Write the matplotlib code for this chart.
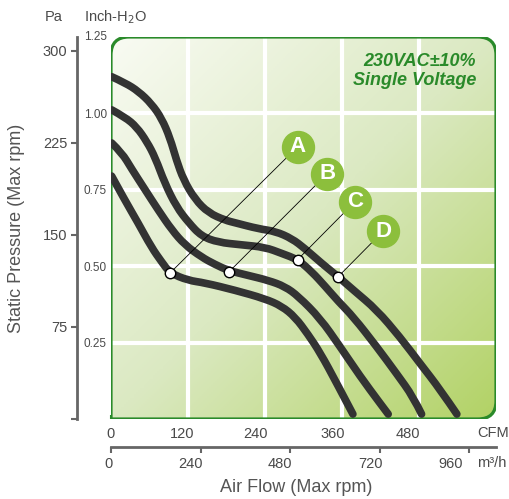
import numpy as np
import matplotlib
matplotlib.use('Agg')
import matplotlib.pyplot as plt
from matplotlib.path import Path
from matplotlib.patches import PathPatch
from matplotlib.colors import LinearSegmentedColormap
from matplotlib.transforms import ScaledTranslation

plt.rcParams['font.family'] = ['Liberation Sans', 'DejaVu Sans']

PA_PER_INCH = 249.09

# axis ticks
cfm_ticks = [0, 120, 240, 360, 480]
m3h_ticks = [0, 240, 480, 720, 960]
pa_ticks = [0, 75, 150, 225, 300]
pa_labels = ['', '75', '150', '225', '300']
inch_ticks = [0.25, 0.50, 0.75, 1.00]
inch_labels = ['0.25', '0.50', '0.75', '1.00']

# fan curves (CFM, Pa)
fan_names = ['A', 'B', 'C', 'D']
cfm_a = [1, 22, 42, 63, 79, 92, 120, 146, 193, 240, 266, 287, 307, 326, 352, 377]
pa_a = [198, 178, 160, 140, 128, 119, 113, 111, 105, 98, 92, 83, 69, 54, 29, 4]
cfm_b = [1, 17, 32, 53, 74, 95, 115, 141, 162, 183, 214, 245, 271, 292, 326, 357, 388, 419, 432]
pa_b = [225, 217, 204, 187, 170, 154, 142, 132, 126, 121, 117, 113, 108, 100, 82, 59, 35, 13, 4]
cfm_c = [1, 22, 40, 56, 69, 84, 102, 121, 141, 167, 203, 240, 266, 291, 313, 334, 354, 378,
         414, 445, 471, 484]
pa_c = [252, 246, 238, 226, 213, 192, 173, 160, 149, 144, 142, 140, 135, 130, 120, 108, 96, 83,
        59, 37, 18, 4]
cfm_d = [1, 22, 43, 63, 79, 92, 102, 113, 131, 152, 178, 193, 230, 256, 282, 302, 328, 354,
         378, 414, 450, 482, 513, 539]
pa_d = [279, 274, 267, 257, 245, 229, 211, 195, 179, 168, 162, 160, 155, 153, 147, 139, 127, 116,
        105, 89, 67, 45, 24, 4]
curves = [(cfm_a, pa_a), (cfm_b, pa_b), (cfm_c, pa_c), (cfm_d, pa_d)]

# operating points and their labels
point_cfm = [92, 184, 291, 354]
point_pa = [119, 120, 130, 116]
badge_cfm = [291, 337, 380, 424]
badge_pa = [222, 200, 177, 153]

green = '#2a8a2a'
text_grey = '#4a4a4a'


def smooth_path(xs, ys):
    # quadratic bezier through midpoints, read points act as control points
    pts = list(zip(xs, ys))
    verts = [pts[0]]
    codes = [Path.MOVETO]
    for i in range(1, len(pts) - 1):
        mid = ((pts[i][0] + pts[i+1][0]) / 2, (pts[i][1] + pts[i+1][1]) / 2)
        if i == len(pts) - 2:
            mid = pts[-1]
        verts += [pts[i], mid]
        codes += [Path.CURVE3, Path.CURVE3]
    return Path(verts, codes)


fig = plt.figure(figsize=(5.1, 4.99), dpi=100)
ax = fig.add_axes([111/510, 80/499, 385/510, 382/499])
ax.set_xlim(0, 600)
ax.set_ylim(0, 1.25*PA_PER_INCH)
ax.patch.set_visible(False)
for s in ax.spines.values():
    s.set_visible(False)

# rounded box (bottom-left corner square)
rx, ry = 18/385, 18/382
verts = [(0, 0), (1-rx, 0), (1, 0), (1, ry), (1, 1-ry), (1, 1), (1-rx, 1),
         (rx, 1), (0, 1), (0, 1-ry), (0, 0), (0, 0)]
codes = [Path.MOVETO, Path.LINETO, Path.CURVE3, Path.CURVE3, Path.LINETO,
         Path.CURVE3, Path.CURVE3, Path.LINETO, Path.CURVE3, Path.CURVE3,
         Path.LINETO, Path.CLOSEPOLY]
box = PathPatch(Path(verts, codes), transform=ax.transAxes,
                facecolor='none', edgecolor=green, lw=2.3, zorder=4)
ax.add_patch(box)

gx, gy = np.meshgrid(np.linspace(0, 1, 200), np.linspace(0, 1, 200))
shade = (gx + 1 - gy) / 2
cmap = LinearSegmentedColormap.from_list('bg', ['#f9fbf3', '#dbe9c2', '#b2d265'])
img = ax.imshow(shade, extent=(0, 600, 0, 1.25*PA_PER_INCH), origin='lower',
                aspect='auto', cmap=cmap, zorder=1)
img.set_clip_path(box)

for x in cfm_ticks[1:]:
    ln = ax.axvline(x, color='white', lw=3, zorder=2)
    ln.set_clip_path(box)
for y in inch_ticks:
    ln = ax.axhline(y*PA_PER_INCH, color='white', lw=3, zorder=2)
    ln.set_clip_path(box)

for xs, ys in curves:
    ax.add_patch(PathPatch(smooth_path(xs, ys), facecolor='none', edgecolor='#333333',
                           lw=5.5, capstyle='round', joinstyle='round', zorder=5))

for i, name in enumerate(fan_names):
    ax.plot([point_cfm[i], badge_cfm[i]], [point_pa[i], badge_pa[i]],
            color='black', lw=0.6, zorder=6)
    ax.plot(point_cfm[i], point_pa[i], 'o', ms=7.5, mfc='white', mec='black',
            mew=1.0, zorder=7)
    ax.plot(badge_cfm[i], badge_pa[i], 'o', ms=23, color='#8cbf3c', zorder=7)
    ax.text(badge_cfm[i], badge_pa[i], name, color='white', fontsize=16,
            fontweight='bold', ha='center', va='center', zorder=8)

ax.text(0.948, 0.935, '230VAC±10%', transform=ax.transAxes, ha='right', va='center',
        color=green, fontsize=13, fontweight='bold', style='italic', zorder=8)
ax.text(0.948, 0.885, 'Single Voltage', transform=ax.transAxes, ha='right', va='center',
        color=green, fontsize=13, fontweight='bold', style='italic', zorder=8)

# CFM axis and inch-H2O axis on the box
ax.set_xticks(cfm_ticks)
ax.set_xticklabels([str(v) for v in cfm_ticks])
ax.tick_params(axis='x', direction='in', length=3, width=1.5, color=green,
               labelsize=10.5, labelcolor=text_grey, pad=6)
ax.set_yticks([v*PA_PER_INCH for v in inch_ticks])
ax.set_yticklabels(inch_labels)
ax.tick_params(axis='y', direction='in', length=3, width=1.5, color=green,
               labelsize=8.5, labelcolor=text_grey, pad=3)
ax.text(-0.01, 1.0, '1.25', transform=ax.transAxes, ha='right', va='center',
        fontsize=8.5, color=text_grey)

# the printed labels sit a little left of their ticks
for lab, dx in zip(ax.get_xticklabels(), [0, -6, -9, -9, -11]):
    lab.set_transform(lab.get_transform() + ScaledTranslation(dx/100, 0, fig.dpi_scale_trans))

# Pa axis
axp = ax.twinx()
axp.set_ylim(0, 1.25*PA_PER_INCH)
axp.yaxis.set_ticks_position('left')
axp.yaxis.set_label_position('left')
for k, s in axp.spines.items():
    s.set_visible(k == 'left')
axp.spines['left'].set_position(('outward', 24.5))
axp.spines['left'].set_color('#666666')
axp.spines['left'].set_linewidth(2)
axp.set_yticks(pa_ticks)
axp.set_yticklabels(pa_labels)
axp.tick_params(axis='y', direction='out', length=4, width=1.5, color='#666666',
                labelsize=10.5, labelcolor=text_grey, pad=3)
axp.set_ylabel('Static Pressure (Max rpm)', fontsize=13, color='#555555')
axp.yaxis.set_label_coords(-0.223, 0.5)

# m3/h axis
axm = ax.twiny()
axm.set_xlim(0, 1032)
axm.xaxis.set_ticks_position('bottom')
for k, s in axm.spines.items():
    s.set_visible(k == 'bottom')
axm.spines['bottom'].set_position(('outward', 20))
axm.spines['bottom'].set_color('#666666')
axm.spines['bottom'].set_linewidth(2)
axm.set_xticks(m3h_ticks)
axm.set_xticklabels([str(v) for v in m3h_ticks])
axm.tick_params(axis='x', direction='out', length=4, width=1.5, color='#666666',
                labelsize=10.5, labelcolor=text_grey, pad=3)
for lab, dx in zip(axm.get_xticklabels(), [-2, -10, -10, -9, -19]):
    lab.set_transform(lab.get_transform() + ScaledTranslation(dx/100, 0, fig.dpi_scale_trans))

fig.text(509/510, 1-433/499, 'CFM', ha='right', va='center', fontsize=10.5, color=text_grey)
fig.text(477/510, 1-463/499, 'm³/h', ha='left', va='center', fontsize=10.5, color=text_grey)
fig.text(296/510, 1-488/499, 'Air Flow (Max rpm)', ha='center', va='center', fontsize=13, color='#555555')
fig.text(54/510, 1-17/499, 'Pa', ha='center', va='center', fontsize=10.5, color=text_grey)
fig.text(115/510, 1-17/499, 'Inch-H$_2$O', ha='center', va='center', fontsize=10.5, color=text_grey)

fig.savefig('out.png', dpi=100)
